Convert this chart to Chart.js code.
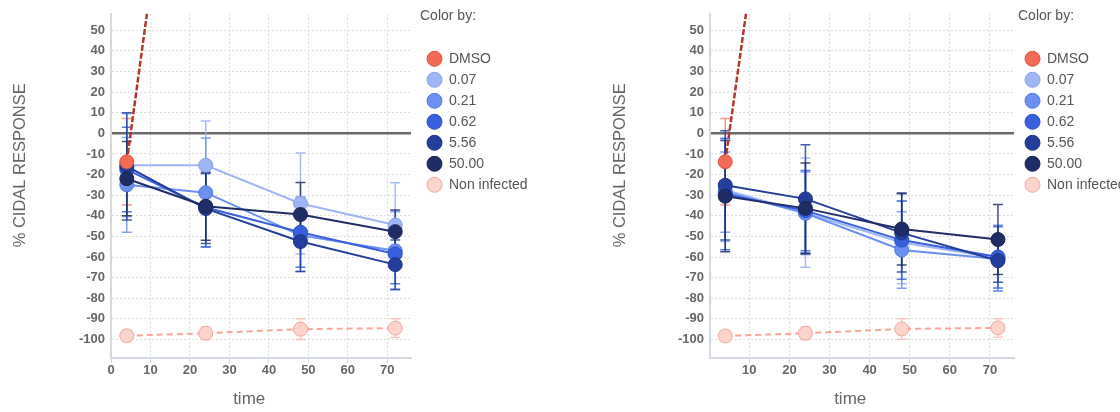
<!DOCTYPE html>
<html>
<head>
<meta charset="utf-8">
<script src="https://cdn.jsdelivr.net/npm/chart.js@4.4.1/dist/chart.umd.min.js"></script>
<style>
  html, body { margin: 0; padding: 0; background: #fff; overflow: hidden; }
  #wrap { position: relative; width: 1120px; height: 412px; }
  canvas { position: absolute; top: 0; }
</style>
</head>
<body>
<div id="wrap">
  <canvas id="left" width="560" height="412" style="left:0"></canvas>
  <canvas id="right" width="560" height="412" style="left:560px"></canvas>
</div>
<script>
// time points (h) and series
const times = [4, 24, 48, 72];
const seriesNames = ["DMSO", "0.07", "0.21", "0.62", "5.56", "50.00", "Non infected"];
// darker doses sit on top, DMSO above all
const drawOrder = [0, 5, 4, 3, 2, 1, 6];

// left panel: mean % cidal response
const leftDmso = [-13.8, 268, 285, 300];
const left007 = [-15.5, -15.5, -34, -44.5];
const left021 = [-25, -28.8, -49.5, -57];
const left062 = [-17.6, -36, -48, -58.5];
const left556 = [-16, -36.5, -52.5, -63.7];
const left5000 = [-22, -35.4, -39.4, -47.7];
const leftNonInf = [-98.2, -97, -95, -94.5];

// left panel: error (+/-)
const leftErrDmso = [21, 20, 20, 20];
const leftErr007 = [25, 21.5, 24.5, 20.5];
const leftErr021 = [23, 26.5, 17.5, 19];
const leftErr062 = [20.5, 19, 17, 14.5];
const leftErr556 = [26, 17, 14.5, 12];
const leftErr5000 = [18, 16.5, 15.5, 10.5];
const leftErrNonInf = [2.5, 3, 5, 4.5];

// right panel: mean % cidal response
const rightDmso = [-13.8, 264, 285, 300];
const right007 = [-27.5, -38.5, -53, -60.5];
const right021 = [-28.5, -38.8, -56.6, -61];
const right062 = [-29.5, -37.5, -51.8, -60];
const right556 = [-25.2, -31.8, -48.3, -61.8];
const right5000 = [-30.5, -36.4, -46.4, -51.5];
const rightNonInf = [-98.3, -97, -94.9, -94.4];

// right panel: error (+/-)
const rightErrDmso = [21, 20, 20, 20];
const rightErr007 = [25, 26.5, 20, 16];
const rightErr021 = [19.5, 20, 18.5, 15.5];
const rightErr062 = [27, 19.5, 19, 15];
const rightErr556 = [26.5, 26.3, 19, 10.5];
const rightErr5000 = [27, 22, 17.5, 17];
const rightErrNonInf = [2.5, 3, 5, 4.5];

const fillColors = ["#f36a55", "#9fb6f6", "#6a90f2", "#3760dc", "#223f9c", "#1f2d66", "#fdd4cb"];
const edgeColors = ["#d8543f", "#86a0e8", "#5479e2", "#2a4fc6", "#1a3386", "#172352", "#eba79c"];
const lineColors = ["#b3362a", "#9fb6f6", "#6a90f2", "#3760dc", "#223f9c", "#1f2d66", "#f7a797"];
const barColors = ["rgba(243,120,100,0.75)", "rgba(150,176,246,0.85)", "rgba(106,144,242,0.85)",
  "rgba(55,96,220,0.85)", "rgba(34,63,156,0.85)", "rgba(31,45,102,0.85)", "rgba(247,170,155,0.6)"];
const lineDashes = [[6, 2], [], [], [], [], [], [6, 4]];

const FONT = "'Liberation Sans', Arial, Helvetica, sans-serif";

const errorBars = {
  id: "errorBars",
  beforeDatasetsDraw(chart) {
    const { ctx, chartArea, scales: { x, y } } = chart;
    ctx.save();
    ctx.beginPath();
    ctx.rect(chartArea.left, chartArea.top, chartArea.width, chartArea.height);
    ctx.clip();
    chart.data.datasets.forEach(ds => {
      ctx.strokeStyle = ds.barColor;
      ctx.lineWidth = 1.5;
      ds.data.forEach((p, i) => {
        const e = ds.errors[i];
        const px = x.getPixelForValue(p.x);
        const top = y.getPixelForValue(p.y + e);
        const bot = y.getPixelForValue(p.y - e);
        ctx.beginPath();
        ctx.moveTo(px, top); ctx.lineTo(px, bot);
        ctx.moveTo(px - 5, top); ctx.lineTo(px + 5, top);
        ctx.moveTo(px - 5, bot); ctx.lineTo(px + 5, bot);
        ctx.stroke();
      });
    });
    ctx.restore();
  }
};

function buildDatasets(values, errors) {
  return seriesNames.map((name, k) => ({
    label: name,
    order: drawOrder[k],
    data: times.map((t, i) => ({ x: t, y: values[k][i] })),
    errors: errors[k],
    barColor: barColors[k],
    backgroundColor: fillColors[k],
    borderColor: lineColors[k],
    borderWidth: k === 0 ? 2.5 : 2,
    borderDash: lineDashes[k],
    pointBackgroundColor: fillColors[k],
    pointBorderColor: edgeColors[k],
    pointBorderWidth: 1,
    pointRadius: 7,
    pointHoverRadius: 7,
    tension: 0
  }));
}

function makeChart(id, values, errors, o) {
  return new Chart(document.getElementById(id), {
    type: "line",
    data: { datasets: buildDatasets(values, errors) },
    plugins: [errorBars],
    options: {
      responsive: false,
      animation: false,
      layout: { padding: { top: 7, bottom: 0, left: 0, right: o.padRight } },
      plugins: {
        tooltip: { enabled: false },
        legend: {
          position: "right",
          align: "start",
          maxWidth: o.legendWidth,
          title: {
            display: true,
            text: "Color by:",
            position: "start",
            color: "#555",
            font: { family: FONT, size: 14 },
            padding: { top: 2, bottom: 19 }
          },
          labels: {
            usePointStyle: true,
            pointStyleWidth: 15,
            boxHeight: 10.6,
            padding: 7,
            color: "#555",
            font: { family: FONT, size: 14 },
            sort: (a, b) => a.datasetIndex - b.datasetIndex
          }
        }
      },
      scales: {
        x: {
          type: "linear",
          min: o.xMin,
          max: 76,
          afterFit: s => { s.height = 54; },
          ticks: { stepSize: 10, includeBounds: false, padding: 0, color: "#666",
            font: { family: FONT, size: 13, weight: "bold" } },
          grid: { color: "#dcdcdc", lineWidth: 1, drawTicks: true, tickLength: 5,
            tickColor: "#d3d9e3", tickWidth: 1, tickBorderDash: [] },
          border: { display: true, color: "#d3d9e3", width: 2, dash: [2, 2] },
          title: { display: true, text: "time     ", color: "#666",
            font: { family: FONT, size: 17 }, padding: { top: 0, bottom: 2 } }
        },
        y: {
          type: "linear",
          min: -109,
          max: 58,
          afterFit: s => { s.width = o.yWidth; },
          ticks: { stepSize: 10, includeBounds: false, padding: 6, color: "#666",
            font: { family: FONT, size: 13, weight: "bold" } },
          grid: {
            drawTicks: false,
            color: c => (c.tick && c.tick.value === 0 ? "#6a6a6a" : "#dcdcdc"),
            lineWidth: c => (c.tick && c.tick.value === 0 ? 2.5 : 1)
          },
          border: { display: true, color: "#d3d9e3", width: 2,
            dash: c => (c.tick && c.tick.value === 0 ? [] : [2, 2]) },
          title: { display: true, text: "         % CIDAL RESPONSE", color: "#666",
            font: { family: FONT, size: 16.5 }, padding: { top: o.yTitlePad, bottom: 0 } }
        },
        gap: {
          type: "linear",
          position: "right",
          display: true,
          afterFit: s => { s.width = o.gap; },
          grid: { display: false },
          border: { display: false },
          ticks: { display: false }
        }
      }
    }
  });
}

makeChart("left",
  [leftDmso, left007, left021, left062, left556, left5000, leftNonInf],
  [leftErrDmso, leftErr007, leftErr021, leftErr062, leftErr556, leftErr5000, leftErrNonInf],
  { xMin: 0, yWidth: 111, yTitlePad: 10.5, gap: 9, legendWidth: 112, padRight: 28 });

makeChart("right",
  [rightDmso, right007, right021, right062, right556, right5000, rightNonInf],
  [rightErrDmso, rightErr007, rightErr021, rightErr062, rightErr556, rightErr5000, rightErrNonInf],
  { xMin: 0.2, yWidth: 150, yTitlePad: 51, gap: 4, legendWidth: 102, padRight: 0 });
</script>
</body>
</html>
